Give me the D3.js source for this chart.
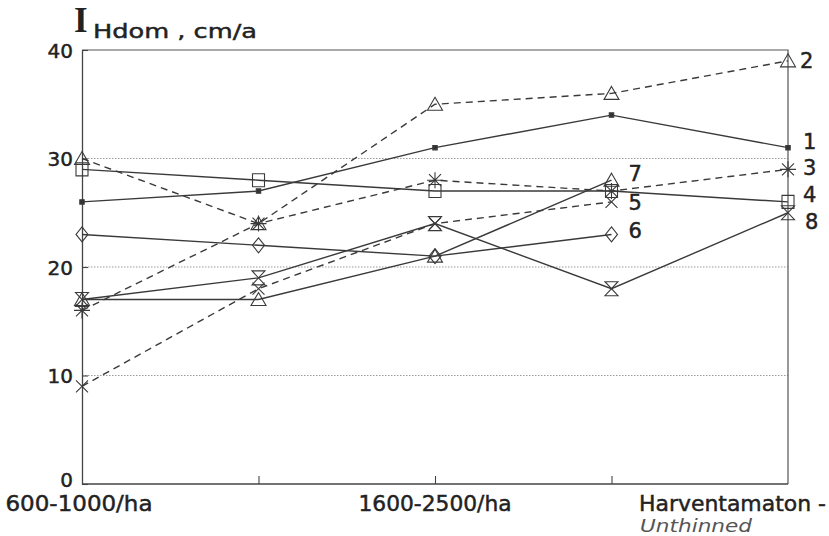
<!DOCTYPE html>
<html>
<head>
<meta charset="utf-8">
<script src="https://cdn.jsdelivr.net/npm/d3@7/dist/d3.min.js"></script>
<style>
  html, body { margin: 0; padding: 0; background: #fff; }
  svg { display: block; }
  text { font-family: "DejaVu Sans", sans-serif; fill: #222; }
</style>
</head>
<body>
<svg id="chart" width="829" height="536"></svg>
<script>
// Stand density classes along the x axis
const categories = [0, 1, 2, 3, 4];
const xLabels = ["600-1000/ha", "", "1600-2500/ha", "", "Harventamaton -"];
const xSubLabels = ["", "", "", "", "Unthinned"];
const yTicks = [0, 10, 20, 30, 40];

// Dominant height growth, cm/a
const series1 = [26, 27, 31, 34, 31];
const series2 = [30, 24, 35, 36, 39];
const series3 = [16, 24, 28, 27, 29];
const series4 = [29, 28, 27, 27, 26];
const series5 = [9, 18, 24, 26];
const series6 = [23, 22, 21, 23];
const series7 = [17, 17, 21, 28];
const series8 = [17, 19, 24, 18, 25];
const seriesNames = ["1", "2", "3", "4", "5", "6", "7", "8"];

const allSeries = [series1, series2, series3, series4, series5, series6, series7, series8];

// drawing style per series: dashed line? marker shape, label nudge
const styles = [
  { dashed: false, marker: "dot",       ldx: 15, ldy: -6 },
  { dashed: true,  marker: "triangle",  ldx: 12, ldy: 0 },
  { dashed: true,  marker: "asterisk",  ldx: 15, ldy: -2 },
  { dashed: false, marker: "square",    ldx: 15, ldy: -7 },
  { dashed: true,  marker: "cross",     ldx: 17, ldy: 1 },
  { dashed: false, marker: "diamond",   ldx: 17, ldy: -4 },
  { dashed: false, marker: "triangle",  ldx: 17, ldy: -7 },
  { dashed: false, marker: "hourglass", ldx: 17, ldy: 9 }
];

const svg = d3.select("#chart");
const x = d3.scalePoint().domain(categories).range([82, 788]);
const y = d3.scaleLinear().domain([0, 40]).range([484, 50]);

// slightly heavier text, like a plotter font
const heavy = sel => sel.attr("stroke", "#222").attr("stroke-width", 0.45);

// dotted reference lines
svg.append("g").selectAll("line")
  .data([10, 20, 30]).join("line")
  .attr("x1", x(0)).attr("x2", x(4))
  .attr("y1", d => y(d)).attr("y2", d => y(d))
  .attr("stroke", "#9a9a9a").attr("stroke-width", 1)
  .attr("stroke-dasharray", "1.5,1.5");

// frame: top and right edges
svg.append("path")
  .attr("d", `M${x(0)},${y(40)} H${x(4)} V${y(0)}`)
  .attr("fill", "none").attr("stroke", "#555").attr("stroke-width", 1.2);

// y axis
const yAxis = svg.append("g")
  .attr("transform", `translate(${x(0)},0)`)
  .call(d3.axisLeft(y).tickValues(yTicks).tickSizeInner(-6).tickSizeOuter(0).tickPadding(9));
yAxis.select(".domain").attr("stroke", "#444").attr("stroke-width", 1.3);
yAxis.selectAll(".tick line").attr("stroke", "#444").attr("stroke-width", 1.1);
yAxis.selectAll(".tick text")
  .attr("font-size", 20).attr("fill", "#222")
  .style("font-family", "DejaVu Sans")
  .attr("dy", "0.36em")
  .call(heavy);
yAxis.selectAll(".tick").filter(d => d === 0).select("text").attr("dy", "0.1em");

// x axis with inward ticks
const xAxis = svg.append("g")
  .attr("transform", `translate(0,${y(0)})`)
  .call(d3.axisBottom(x).tickValues([1, 2, 3]).tickSizeInner(-8).tickSizeOuter(0).tickFormat(""));
xAxis.select(".domain").attr("stroke", "#444").attr("stroke-width", 1.3)
  .attr("d", `M${x(0)},0H${x(4)}`);
xAxis.selectAll(".tick line").attr("stroke", "#444").attr("stroke-width", 1.1);

// category labels
const xLabelLayout = [
  { anchor: "middle", dx: -3, len: 147 },
  null,
  { anchor: "middle", dx: 0, len: 153 },
  null,
  { anchor: "end", dx: 38, len: 187 }
];
categories.forEach((c, i) => {
  const lay = xLabelLayout[i];
  if (!lay || !xLabels[i]) return;
  svg.append("text")
    .attr("x", x(c) + lay.dx).attr("y", 511)
    .attr("text-anchor", lay.anchor)
    .attr("font-size", 21)
    .attr("textLength", lay.len).attr("lengthAdjust", "spacingAndGlyphs")
    .call(heavy)
    .text(xLabels[i]);
  if (xSubLabels[i]) {
    svg.append("text")
      .attr("x", x(c) + lay.dx - lay.len + 1).attr("y", 532)
      .attr("font-size", 18).attr("font-style", "italic")
      .attr("textLength", 112).attr("lengthAdjust", "spacingAndGlyphs")
      .style("fill", "#555")
      .text(xSubLabels[i]);
  }
});

// axis title
svg.append("text")
  .attr("x", 74).attr("y", 32)
  .style("font-family", "Liberation Serif")
  .attr("font-weight", "bold").attr("font-size", 35)
  .text("I");
svg.append("text")
  .attr("x", 93).attr("y", 38)
  .attr("font-size", 20)
  .attr("textLength", 164).attr("lengthAdjust", "spacingAndGlyphs")
  .call(heavy)
  .text("Hdom , cm/a");

// marker shapes centred on (0,0)
const markerPath = {
  triangle:  "M0,-7L7.5,6L-7.5,6Z",
  square:    "M-6,-6.5H6V6.5H-6Z",
  diamond:   "M0,-7.5L6,0L0,7.5L-6,0Z",
  hourglass: "M-6.5,-7H6.5L-6.5,7H6.5Z",
  cross:     "M-6,-6L6,6M-6,6L6,-6",
  asterisk:  "M-8,0H8M0,-8V8M-6,-6L6,6M-6,6L6,-6",
  dot:       "M-2.2,-2.2H2.2V2.2H-2.2Z"
};

const line = d3.line().x((d, i) => x(categories[i])).y(d => y(d));

allSeries.forEach((vals, s) => {
  const st = styles[s];
  const g = svg.append("g");
  g.append("path")
    .attr("d", line(vals))
    .attr("fill", "none").attr("stroke", "#3a3a3a").attr("stroke-width", 1.4)
    .attr("stroke-dasharray", st.dashed ? "7,5" : null);
  g.selectAll("path.mk").data(vals).join("path")
    .attr("class", "mk")
    .attr("transform", (d, i) => `translate(${x(categories[i])},${y(d)})`)
    .attr("d", markerPath[st.marker])
    .attr("fill", st.marker === "dot" ? "#333" : "none")
    .attr("stroke", "#3a3a3a").attr("stroke-width", 1.1);
  const last = vals.length - 1;
  g.append("text")
    .attr("x", x(categories[last]) + st.ldx)
    .attr("y", y(vals[last]) + st.ldy)
    .attr("dy", "0.36em")
    .attr("font-size", 21)
    .call(heavy)
    .text(seriesNames[s]);
});
</script>
</body>
</html>
